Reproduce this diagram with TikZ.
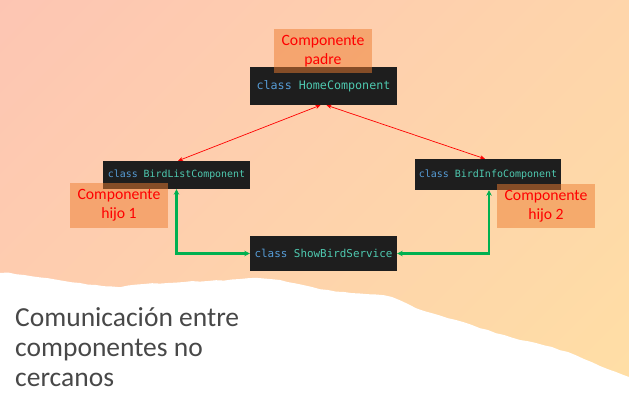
\documentclass[tikz,border=0pt]{standalone}
\usepackage{fontspec}
\setmainfont{Carlito}
\newfontfamily\codefont{DejaVu Sans Mono}
\usetikzlibrary{arrows.meta,calc}
\definecolor{bgpink}{HTML}{FDC0B6}
\definecolor{bgyellow}{HTML}{FFE4A2}
\definecolor{codebg}{HTML}{1E1E1E}
\definecolor{kwblue}{HTML}{569CD6}
\definecolor{typeteal}{HTML}{4EC9B0}
\definecolor{lblorange}{HTML}{ED7D31}
\definecolor{arrgreen}{HTML}{00B050}
\definecolor{titlegray}{HTML}{484848}
\pgfdeclareverticalshading{bgshade}{100bp}{color(0bp)=(bgyellow); color(100bp)=(bgpink)}
\tikzset{
  codebox/.style={draw=none, fill=codebg, inner sep=0pt, align=center},
  lblbox/.style={fill=lblorange, fill opacity=0.5, text opacity=1, text=red,
    inner sep=0pt, align=center, font=\fontsize{15.7}{19}\selectfont},
  redarrow/.style={draw=red, line width=0.7pt, {Stealth[length=5pt,width=4pt]}-{Stealth[length=5pt,width=4pt]}},
  greenarrow/.style={draw=arrgreen, line width=2.2pt, {Stealth[length=5.5pt,width=5.5pt]}-{Stealth[length=5.5pt,width=5.5pt]}},
  titletext/.style={anchor=base west, inner sep=0pt, text=titlegray, font=\fontsize{27.5}{30}\selectfont}
}
\newcommand{\codetxt}[1]{\textcolor{kwblue}{class}\ \textcolor{typeteal}{#1}}
\begin{document}
\begin{tikzpicture}[x=1pt,y=-1pt]
\useasboundingbox (0,0) rectangle (629,402);
\shade[shading=bgshade, shading angle=45] (0,0) rectangle (629,402);
% torn white paper
\fill[white] (-5,273) -- (0,273) -- (8,272.5) -- (16,274.2) -- (24,275) -- (32,276.3) -- (40,277.4) -- (48,278.2) -- (56,279.6) -- (64,281) -- (72,282.3) -- (80,283) -- (88,284.6) -- (96,285) -- (104,286.2) -- (112,286.5) -- (120,287.2) -- (128,285.5) -- (136,284.6) -- (144,284) -- (152,283.2) -- (160,283.6) -- (168,283) -- (176,282.6) -- (184,282) -- (192,281.1) -- (200,281.6) -- (208,281) -- (216,280.2) -- (224,280.6) -- (232,279.5) -- (240,279) -- (248,278.2) -- (256,277.8) -- (264,278.5) -- (272,279.2) -- (280,280) -- (288,282.1) -- (296,283.5) -- (304,285.2) -- (312,287) -- (320,289.2) -- (328,290) -- (336,291.6) -- (344,292) -- (352,293.1) -- (360,293.5) -- (368,294.2) -- (376,294.5) -- (384,295.2) -- (392,297) -- (400,300.3) -- (408,304) -- (416,308.2) -- (424,311) -- (432,313.2) -- (440,315.5) -- (448,318.2) -- (456,320) -- (464,322.3) -- (472,325) -- (480,328.2) -- (488,330) -- (496,333.2) -- (504,335) -- (512,337.6) -- (520,340) -- (528,341.2) -- (536,343) -- (544,345.3) -- (552,347) -- (560,350.2) -- (568,352) -- (576,355.3) -- (584,359) -- (592,362.2) -- (600,366) -- (608,369.2) -- (616,372) -- (624,375.2) -- (629,377) -- (635,379) -- (635,410) -- (-5,410) -- cycle;
% code boxes
\node[codebox, minimum width=147pt, minimum height=38pt, font=\codefont\fontsize{11.7}{14}\selectfont] (home) at (323.5,86) {\codetxt{HomeComponent}};
\node[codebox, minimum width=147pt, minimum height=28pt, font=\codefont\fontsize{9.9}{12}\selectfont] (blist) at (176.5,175) {\codetxt{BirdListComponent}};
\node[codebox, minimum width=146pt, minimum height=31pt, font=\codefont\fontsize{10}{12}\selectfont] (binfo) at (488,174.5) {\codetxt{BirdInfoComponent}};
\node[codebox, minimum width=147pt, minimum height=35pt, font=\codefont\fontsize{10.9}{13}\selectfont] (show) at (323.5,253.5) {\codetxt{ShowBirdService}};
% labels
\node[lblbox, minimum width=98pt, minimum height=44pt] (lpadre) at (323,51) {Componente\\padre};
\node[lblbox, minimum width=98pt, minimum height=45pt] (lhijo1) at (119,205.5) {Componente\\hijo 1};
\node[lblbox, minimum width=98pt, minimum height=44pt] (lhijo2) at (546,206) {Componente\\hijo 2};
% connectors
\draw[redarrow] ([xshift=-3pt]home.south) -- ([xshift=1.5pt]blist.north);
\draw[redarrow] ([xshift=3pt]home.south) -- ([xshift=-3pt]binfo.north);
\draw[greenarrow] (blist.south) |- (show.west);
\draw[greenarrow] ([xshift=1pt]binfo.south) |- (show.east);
% title
\node[titletext] (t1) at (15,326) {Comunicación entre};
\node[titletext] (t2) at (15,356) {componentes no};
\node[titletext] (t3) at (15,386) {cercanos};
\end{tikzpicture}
\end{document}
